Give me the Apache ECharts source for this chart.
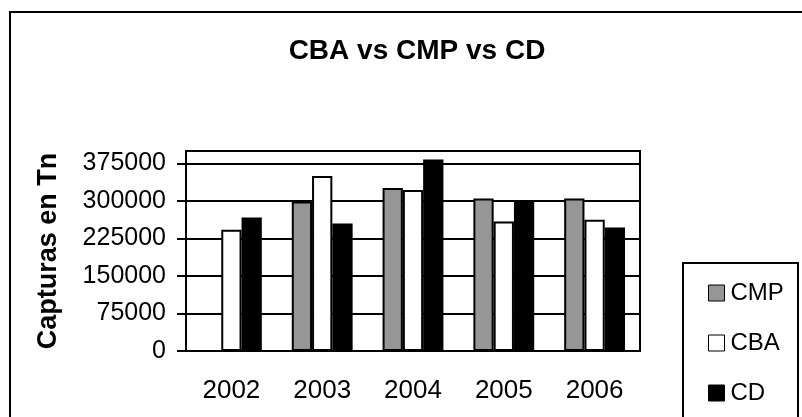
<!DOCTYPE html>
<html lang="es">
    <head>
        <meta charset="UTF-8" />
        <script type="text/javascript" src="https://cdn.jsdelivr.net/npm/echarts@6/dist/echarts.min.js"></script>
        <title>CBA vs CMP vs CD</title>
        <style type="text/css">
            html, body { margin: 0; padding: 0; background: #fff; }
            #chart { width: 802px; height: 417px; }
        </style>
    </head>

    <body>
        <div id="chart"></div>
        <script type="text/javascript">
            // datos
            let years = ["2002", "2003", "2004", "2005", "2006"];
            let cmp = [null, 299000, 326000, 305000, 305000];
            let cba = [242500, 350000, 322000, 259000, 262500];
            let cd = [267000, 255000, 383000, 299000, 247000];
            let yTicks = [0, 75000, 150000, 225000, 300000, 375000];

            let font = "'Liberation Sans', Arial, sans-serif";
            let chart = echarts.init(document.getElementById("chart"));

            function barSeries(name, data, color) {
                return {
                    name: name,
                    type: "bar",
                    data: data,
                    barGap: 0,
                    barCategoryGap: "33%",
                    itemStyle: {
                        color: color,
                        borderColor: "#000",
                        borderWidth: 2,
                    },
                };
            }

            let option = {
                animation: false,
                backgroundColor: "#fff",
                textStyle: { fontFamily: font },
                title: {
                    text: "CBA vs CMP vs CD",
                    left: 412,
                    textAlign: "center",
                    top: 32,
                    textStyle: {
                        fontFamily: font,
                        fontSize: 28,
                        fontWeight: "bold",
                        color: "#000",
                    },
                },
                graphic: [
                    {
                        type: "rect",
                        shape: { x: 10, y: 12, width: 820, height: 440 },
                        style: { fill: null, stroke: "#000", lineWidth: 2 },
                        silent: true,
                    },
                    {
                        type: "rect",
                        shape: { x: 683, y: 263, width: 115, height: 200 },
                        style: { fill: "#fff", stroke: "#000", lineWidth: 2 },
                        silent: true,
                        z: -1,
                    },
                ],
                legend: {
                    orient: "vertical",
                    left: 703,
                    top: 276,
                    itemWidth: 16,
                    itemHeight: 16,
                    itemGap: 26,
                    icon: "rect",
                    itemStyle: { borderWidth: 1, borderColor: "#000" },
                    textStyle: { fontFamily: font, fontSize: 24, color: "#000", padding: [0, 0, 0, 1] },
                    data: ["CMP", "CBA", "CD"],
                },
                grid: {
                    left: 186,
                    top: 151,
                    right: 162,
                    bottom: 66,
                    show: true,
                    borderColor: "#000",
                    borderWidth: 2,
                },
                xAxis: {
                    type: "category",
                    data: years,
                    axisLine: { lineStyle: { color: "#000", width: 2 } },
                    axisTick: { length: 7, lineStyle: { color: "#000", width: 2 } },
                    axisLabel: {
                        fontFamily: font,
                        fontSize: 26,
                        color: "#000",
                        margin: 27,
                    },
                },
                yAxis: {
                    type: "value",
                    min: 0,
                    max: 400000,
                    interval: 75000,
                    name: "Capturas en Tn",
                    nameLocation: "middle",
                    nameGap: 124,
                    nameTextStyle: {
                        fontFamily: font,
                        fontSize: 27,
                        fontWeight: "bold",
                        color: "#000",
                    },
                    axisLine: { show: true, lineStyle: { color: "#000", width: 2 } },
                    axisTick: {
                        show: true,
                        length: 9,
                        customValues: yTicks,
                        lineStyle: { color: "#000", width: 2 },
                    },
                    axisLabel: {
                        fontFamily: font,
                        fontSize: 25,
                        color: "#000",
                        margin: 20,
                        customValues: yTicks,
                        formatter: (v) => String(v),
                    },
                    splitLine: { lineStyle: { color: "#000", width: 2 } },
                },
                series: [
                    barSeries("CMP", cmp, "#969696"),
                    barSeries("CBA", cba, "#ffffff"),
                    barSeries("CD", cd, "#000000"),
                ],
            };
            chart.setOption(option);
        </script>
    </body>
</html>
